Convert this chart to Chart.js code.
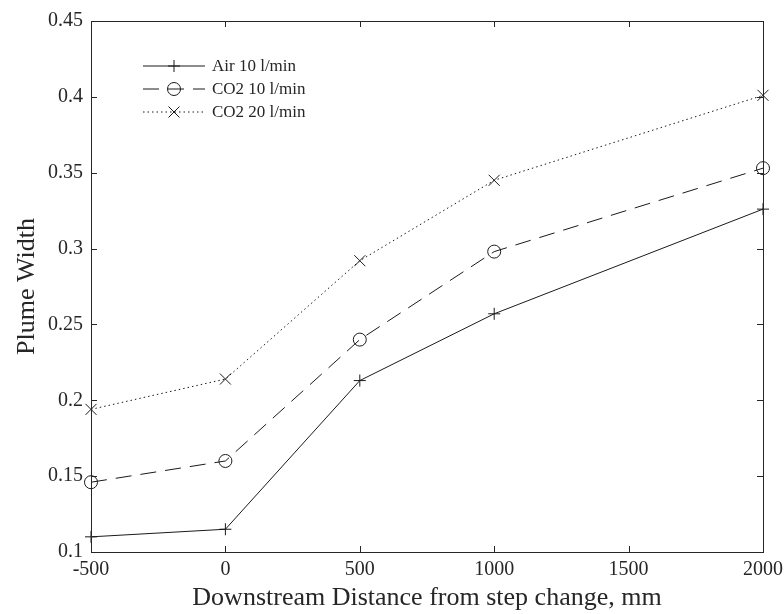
<!DOCTYPE html>
<html>
<head>
<meta charset="utf-8">
<script src="https://cdn.jsdelivr.net/npm/chart.js@4.4.1/dist/chart.umd.min.js"></script>
<style>
  html, body { margin: 0; padding: 0; background: #fff; }
  #wrap { width: 784px; height: 614px; position: relative; }
</style>
</head>
<body>
<div id="wrap"><canvas id="plumeChart"></canvas></div>
<script>
// distance downstream of the step change (mm)
var distances = [-500, 0, 500, 1000, 2000];
// plume width per flow case
var air10  = [0.110, 0.115, 0.213, 0.257, 0.326];
var co2_10 = [0.146, 0.160, 0.240, 0.298, 0.353];
var co2_20 = [0.194, 0.214, 0.292, 0.345, 0.401];
var seriesNames = ['Air 10 l/min', 'CO2 10 l/min', 'CO2 20 l/min'];

var xTicks = [-500, 0, 500, 1000, 1500, 2000];
var yTicks = [0.1, 0.15, 0.2, 0.25, 0.3, 0.35, 0.4, 0.45];

var ink = '#262626';
var serif = "'Liberation Serif', 'DejaVu Serif', serif";

function toPoints(ys) {
  return distances.map(function (d, i) { return { x: d, y: ys[i] }; });
}

function drawMarker(ctx, style, x, y) {
  ctx.beginPath();
  if (style === 'cross') {
    ctx.moveTo(x - 6, y); ctx.lineTo(x + 6, y);
    ctx.moveTo(x, y - 6); ctx.lineTo(x, y + 6);
  } else if (style === 'circle') {
    ctx.arc(x, y, 6.5, 0, Math.PI * 2);
  } else {
    ctx.moveTo(x - 5.5, y - 5.5); ctx.lineTo(x + 5.5, y + 5.5);
    ctx.moveTo(x + 5.5, y - 5.5); ctx.lineTo(x - 5.5, y + 5.5);
  }
  ctx.stroke();
}

// box round the axes, inward ticks on all four sides, and the legend
var boxPlugin = {
  id: 'boxPlugin',
  afterDraw: function (chart) {
    var ctx = chart.ctx;
    var a = chart.chartArea;
    var xs = chart.scales.x, ys = chart.scales.y;
    var tl = 6;
    ctx.save();
    ctx.strokeStyle = ink;
    ctx.lineWidth = 1;
    ctx.setLineDash([]);
    ctx.strokeRect(Math.round(a.left) + 0.5, Math.round(a.top) + 0.5,
      Math.round(a.right - a.left), Math.round(a.bottom - a.top));
    ctx.beginPath();
    xTicks.forEach(function (v) {
      var px = Math.round(xs.getPixelForValue(v)) + 0.5;
      ctx.moveTo(px, a.bottom); ctx.lineTo(px, a.bottom - tl);
      ctx.moveTo(px, a.top); ctx.lineTo(px, a.top + tl);
    });
    yTicks.forEach(function (v) {
      var py = Math.round(ys.getPixelForValue(v)) + 0.5;
      ctx.moveTo(a.left, py); ctx.lineTo(a.left + tl, py);
      ctx.moveTo(a.right, py); ctx.lineTo(a.right - tl, py);
    });
    ctx.stroke();

    // legend
    var rowY = [66, 89, 112];
    var x0 = a.left + 52, x1 = a.left + 114, xm = (x0 + x1) / 2;
    ctx.font = '17px ' + serif;
    ctx.textBaseline = 'middle';
    ctx.fillStyle = ink;
    chart.data.datasets.forEach(function (ds, i) {
      var y = rowY[i];
      ctx.strokeStyle = ds.borderColor;
      ctx.lineWidth = 1;
      ctx.setLineDash(ds.borderDash || []);
      ctx.beginPath();
      ctx.moveTo(x0, y); ctx.lineTo(x1, y);
      ctx.stroke();
      ctx.setLineDash([]);
      drawMarker(ctx, ds.pointStyle, xm, y);
      ctx.fillText(seriesNames[i], x1 + 7, y + 1);
    });
    ctx.restore();
  }
};

var ctx = document.getElementById('plumeChart').getContext('2d');
var plumeChart = new Chart(ctx, {
  type: 'line',
  data: {
    datasets: [
      {
        label: seriesNames[0], data: toPoints(air10), clip: false,
        borderColor: '#1a1a1a', borderWidth: 1, borderDash: [],
        pointStyle: 'cross', pointRadius: 6, pointBorderWidth: 1,
        pointBorderColor: '#1a1a1a', pointBackgroundColor: 'rgba(0,0,0,0)'
      },
      {
        label: seriesNames[1], data: toPoints(co2_10), clip: false,
        borderColor: '#1a1a1a', borderWidth: 1, borderDash: [16, 9],
        pointStyle: 'circle', pointRadius: 6.5, pointBorderWidth: 1,
        pointBorderColor: '#1a1a1a', pointBackgroundColor: 'rgba(0,0,0,0)'
      },
      {
        label: seriesNames[2], data: toPoints(co2_20), clip: false,
        borderColor: '#1a1a1a', borderWidth: 1, borderDash: [1.5, 3],
        pointStyle: 'crossRot', pointRadius: 7.8, pointBorderWidth: 1,
        pointBorderColor: '#1a1a1a', pointBackgroundColor: 'rgba(0,0,0,0)'
      }
    ]
  },
  options: {
    responsive: true,
    maintainAspectRatio: false,
    animation: false,
    layout: { padding: { left: 0, top: 21, right: 21, bottom: 0 } },
    plugins: {
      legend: { display: false },
      tooltip: { enabled: false }
    },
    elements: { line: { tension: 0 } },
    scales: {
      x: {
        type: 'linear', min: -500, max: 2000,
        afterBuildTicks: function (s) { s.ticks = xTicks.map(function (v) { return { value: v }; }); },
        afterFit: function (s) { s.height = 62; s.paddingLeft = 0; s.paddingRight = 0; },
        grid: { display: false, drawTicks: false },
        border: { display: false },
        ticks: {
          color: ink, padding: 6, maxRotation: 0,
          font: { family: serif, size: 20 },
          callback: function (v) { return String(v); }
        },
        title: {
          display: true, text: 'Downstream Distance from step change, mm',
          color: ink, font: { family: serif, size: 26 },
          padding: { top: 0, bottom: 0 }
        }
      },
      y: {
        type: 'linear', min: 0.1, max: 0.45,
        afterBuildTicks: function (s) { s.ticks = yTicks.map(function (v) { return { value: v }; }); },
        afterFit: function (s) { s.width = 91; s.paddingTop = 0; s.paddingBottom = 0; },
        grid: { display: false, drawTicks: false },
        border: { display: false },
        ticks: {
          color: ink, padding: 8,
          font: { family: serif, size: 20 },
          callback: function (v) { return String(v); }
        },
        title: {
          display: true, text: 'Plume Width',
          color: ink, font: { family: serif, size: 26 },
          padding: { top: 12, bottom: 0 }
        }
      }
    }
  },
  plugins: [boxPlugin]
});
</script>
</body>
</html>
